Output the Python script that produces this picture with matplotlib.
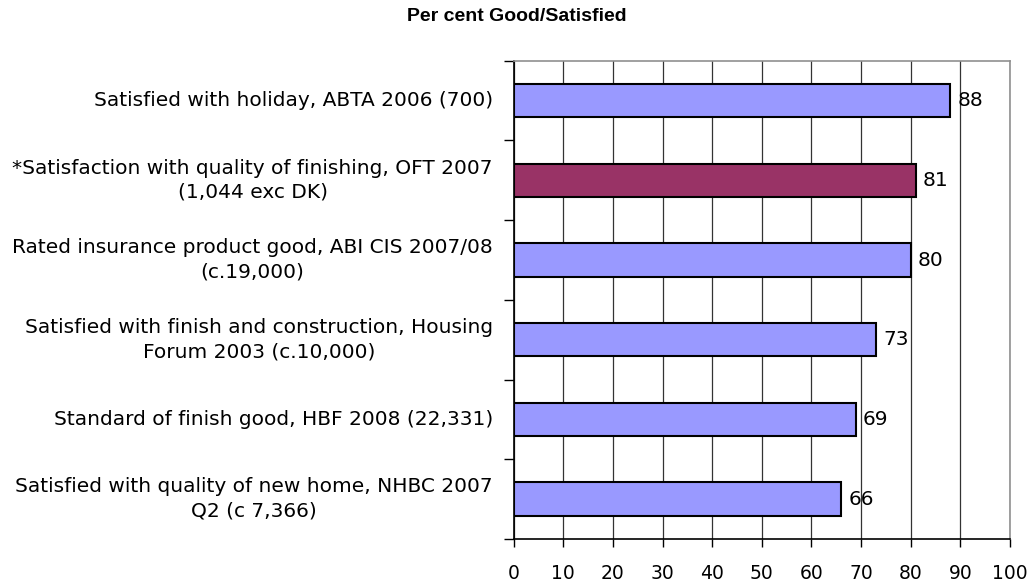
import numpy as np
import matplotlib.pyplot as plt

labels = [
    "Satisfied with holiday, ABTA 2006 (700)",
    "*Satisfaction with quality of finishing, OFT 2007\n(1,044 exc DK)",
    "Rated insurance product good, ABI CIS 2007/08\n(c.19,000)",
    "Satisfied with finish and construction, Housing\nForum 2003 (c.10,000)",
    "Standard of finish good, HBF 2008 (22,331)",
    "Satisfied with quality of new home, NHBC 2007\nQ2 (c 7,366)",
]
values = [88, 81, 80, 73, 69, 66]
highlight = [False, True, False, False, False, False]

plt.rcParams['font.family'] = ['DejaVu Sans']

fig = plt.figure(figsize=(10.34, 5.84), dpi=100)
ax = fig.add_axes([0.4968, 0.0771, 0.48, 0.8189])

pos = np.arange(len(values))
colors = ['#993366' if h else '#9999FF' for h in highlight]
ax.barh(pos, values, height=0.42, color=colors, edgecolor='black',
        linewidth=1.5, zorder=3)

for p, v in zip(pos, values):
    ax.text(v + 1.4, p, str(v), va='center', ha='left', fontsize=14.5,
            color='black', zorder=4)

ax.set_xlim(0, 100)
ax.set_ylim(len(values) - 0.5, -0.5)
ax.set_xticks(np.arange(0, 101, 10))
ax.tick_params(axis='x', labelsize=13.5, length=6, width=1, pad=12)

# category labels centred on bars, ticks sit between categories
ax.set_yticks(np.arange(-0.5, len(values), 1.0))
ax.set_yticklabels([])
ax.tick_params(axis='y', length=7, width=1)
for p, lab in zip(pos, labels):
    ax.text(-4.2, p, lab, ha='right', va='center', multialignment='center',
            fontsize=14.5, linespacing=1.35, transform=ax.transData)

ax.xaxis.grid(True, color='#333333', linewidth=0.9, zorder=0)
ax.set_axisbelow(True)
for side in ['top', 'right']:
    ax.spines[side].set_color('#909090')
    ax.spines[side].set_linewidth(1.2)
for side in ['left', 'bottom']:
    ax.spines[side].set_color('black')
    ax.spines[side].set_linewidth(1.2)

fig.text(0.5, 0.971, "Per cent Good/Satisfied", ha='center', va='center',
         fontsize=14, fontweight='bold', family=['Liberation Sans'])

fig.savefig('out.png', dpi=100)
